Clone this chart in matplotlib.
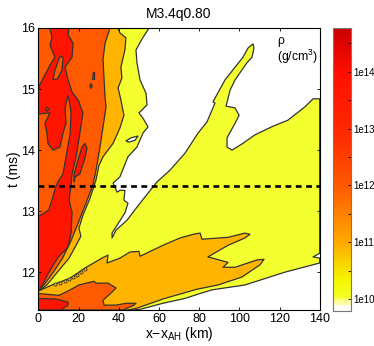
"""Density contours rho(x-x_AH, t) for M3.4q0.80, with dashed time slice."""

import matplotlib

matplotlib.use("Agg")
import matplotlib.pyplot as plt
import numpy as np
from matplotlib.cm import ScalarMappable
from matplotlib.colors import LinearSegmentedColormap, LogNorm

plt.rcParams["font.family"] = ["Liberation Sans", "DejaVu Sans"]
plt.rcParams["mathtext.default"] = "regular"

# contour outlines, (x - x_AH in km, t in ms)
yellow_region = [
    (55.1, 16), (51.6, 15.82), (48.6, 15.64), (49.1, 15.43), (50.6, 15.15), (53.6, 14.93), (54.1, 14.74),
    (50.1, 14.61), (52.1, 14.52), (54.6, 14.38), (52.1, 14.28), (49.1, 14.05), (44.6, 13.89), (40.6, 13.56),
    (37.2, 13.46), (39.2, 13.31), (40.6, 13.34), (43.1, 13.34), (42.6, 13.18), (44.6, 13.13), (43.1, 12.97),
    (39.2, 12.77), (36.7, 12.64), (36.7, 12.56), (38.7, 12.69), (44.1, 12.85), (50.6, 13.13), (59.1, 13.48),
    (65.5, 13.67), (73, 13.95), (79.5, 14.28), (83.9, 14.46), (87.9, 14.77), (86.9, 14.79), (92.9, 15.15),
    (101.8, 15.52), (104.3, 15.67), (106.8, 15.74), (107.3, 15.67), (106.3, 15.52), (103.8, 15.43),
    (97.9, 15.15), (95.4, 14.98), (93.4, 14.72), (97.9, 14.69), (99.9, 14.57), (97.9, 14.44), (93.9, 14.2),
    (93.9, 14.05), (96.4, 14.0), (101.8, 14.11), (107.8, 14.25), (116.7, 14.39), (124.2, 14.49), (132.7, 14.71),
    (136.7, 14.84), (140, 14.84), (140, 12.31), (136.7, 12.25), (140, 12.23), (140, 12.15), (122.7, 12.0),
    (102.8, 11.79), (86.4, 11.71), (79.5, 11.64), (73, 11.57), (62, 11.49), (50.6, 11.39), (47.1, 11.38),
    (0, 11.38), (0, 16),
]
amber_upper = [
    (39.7, 16), (40.6, 15.92), (43.6, 15.84), (43.1, 15.64), (41.1, 15.36), (41.6, 15.18), (39.7, 15.02),
    (41.1, 14.82), (42.6, 14.57), (40.6, 14.36), (37.2, 14.11), (32.2, 13.89), (30.2, 13.75), (28.7, 13.51),
    (25.7, 13.21), (22.2, 12.93), (20.2, 12.72), (21.2, 12.59), (18.8, 12.44), (15.3, 12.23), (9.5, 12.0),
    (4.5, 11.8), (1.5, 11.72), (0, 11.69), (0, 16),
]
amber_lower = [
    (0, 11.69), (6.8, 11.79), (15.8, 11.9), (23.3, 12.07), (31.7, 12.23), (34.7, 12.28), (34.2, 12.15),
    (40.6, 12.23), (45.6, 12.33), (50.1, 12.34), (50.6, 12.26), (62, 12.44), (70.5, 12.56), (77, 12.62),
    (80.5, 12.64), (81.4, 12.54), (94.4, 12.57), (102.8, 12.64), (105.3, 12.62), (102.8, 12.56), (94.4, 12.44),
    (84.4, 12.25), (94.4, 12.16), (91.9, 12.08), (97.9, 12.08), (108.8, 12.2), (112.3, 12.21), (110.3, 12.12),
    (101.3, 11.92), (89.4, 11.79), (78.9, 11.72), (62, 11.56), (49.1, 11.41), (44.6, 11.38), (0, 11.38),
]
orange_upper = [
    (35.7, 16), (33.2, 15.75), (32.2, 15.48), (33.2, 14.87), (33.7, 14.71), (31.2, 14.16), (30.2, 13.95),
    (28.7, 13.67), (27.2, 13.43), (23.7, 13.13), (18.8, 12.72), (16.5, 12.53), (14, 12.36), (12.1, 12.23),
    (7.5, 12.0), (3, 11.8), (1, 11.72), (0, 11.69), (0, 16),
]
orange_lower = [
    (0, 11.65), (10.3, 11.62), (15.3, 11.7), (20.2, 11.79), (27.7, 11.85), (28.7, 11.82), (34.7, 11.82),
    (38.7, 11.74), (36.2, 11.66), (32.2, 11.54), (32.7, 11.46), (38.7, 11.46), (43.6, 11.49), (48.6, 11.49),
    (47.6, 11.46), (42.1, 11.38), (0, 11.38),
]
red_main = [
    (0, 12.91), (5.3, 13.02), (8.8, 13.41), (10.3, 13.51), (12.3, 13.61), (13.8, 13.89), (15.8, 14.26),
    (16.3, 14.61), (15.3, 14.82), (14.8, 14.89), (13.8, 14.77), (13.3, 14.66), (13.8, 14.44), (12.3, 14.28),
    (10.8, 14.05), (7.3, 14.0), (4.8, 14.11), (4.3, 14.28), (3.3, 14.44), (5.8, 14.61), (0, 14.59), (0, 15.02),
    (5.8, 15.39), (8.3, 15.52), (5.8, 15.72), (6.8, 15.84), (5.8, 16), (15.3, 16), (14.8, 15.89), (17.3, 15.75),
    (16.8, 15.52), (13.3, 15.36), (14.8, 15.15), (16.8, 14.95), (19.8, 14.82), (22.2, 14.61), (20.7, 14.28),
    (18.8, 13.89), (16.8, 13.61), (16.3, 13.43), (15.3, 13.18), (16.8, 12.98), (16.3, 12.64), (14.8, 12.41),
    (10, 12.25), (5.3, 12.0), (2.2, 11.8), (0.5, 11.71), (0, 11.69),
]
red_strip = [
    (23.2, 14.11), (24.2, 14.03), (23.2, 13.87), (20.7, 13.61), (18.3, 13.56), (17.8, 13.48), (17.8, 13.61),
    (19.8, 13.84), (21.7, 14.05),
]
red_lower = [(0, 11.57), (8.8, 11.56), (14.8, 11.51), (14.8, 11.46), (11.3, 11.38), (0, 11.38)]
orange_islands = [
    [(12.3, 15.52), (10.8, 15.54), (8.3, 15.31), (7.3, 15.16), (9.3, 15.16), (11.8, 15.31)],
    [(3.5, 14.67), (4.3, 14.70), (5.3, 14.67), (4.3, 14.64)],
    [(26.9, 15.17), (27.5, 15.17), (27.5, 15.28), (27, 15.28)],
    [(25.6, 15.05), (26.2, 15.09), (26.8, 15.05), (26.2, 15.01)],
]
white_island = [(43.6, 14.15), (46.1, 14.2), (49.6, 14.23), (48.1, 14.16), (45.1, 14.13)]
blob_km = [8.3, 10.8, 13.3, 15.3, 17.3, 19.3, 21.3, 23.3]
blob_ms = [11.80, 11.82, 11.85, 11.88, 11.92, 11.95, 12.0, 12.05]

slice_ms = 13.41
xticks = [0, 20, 40, 60, 80, 100, 120, 140]
yticks = [12, 13, 14, 15, 16]
bar_ticks = [1e10, 1e11, 1e12, 1e13, 1e14]
bar_labels = ["1e10", "1e11", "1e12", "1e13", "1e14"]
bar_minor = [10**10.5, 10**11.5, 10**12.5, 10**13.5, 10**14.5]

YELLOW = "#f4ff2f"
AMBER = "#ffb400"
ORANGE = "#ff5a00"
RED = "#ff1400"
EDGE = "#333333"
W, H = 374, 346


def draw_region(ax, points, color):
    pts = np.asarray(points, dtype=float)
    ax.fill(pts[:, 0], pts[:, 1], facecolor=color, edgecolor=EDGE, lw=0.9, joinstyle="round")


fig = plt.figure(figsize=(W / 100, H / 100), dpi=100)
ax = fig.add_axes([38.3 / W, (H - 310) / H, 281.4 / W, 282 / H])

draw_region(ax, yellow_region, YELLOW)
draw_region(ax, amber_upper, AMBER)
draw_region(ax, amber_lower, AMBER)
draw_region(ax, orange_upper, ORANGE)
draw_region(ax, orange_lower, ORANGE)
draw_region(ax, red_main, RED)
draw_region(ax, red_strip, RED)
draw_region(ax, red_lower, RED)
for island in orange_islands:
    draw_region(ax, island, ORANGE)
draw_region(ax, white_island, "white")
ax.scatter(blob_km, blob_ms, s=5, facecolor=AMBER, edgecolor=EDGE, lw=0.6, zorder=3)

ax.plot([0, 140], [slice_ms, slice_ms], color="black", lw=1.9, dashes=(2.2, 1.7), zorder=4)
ax.text(118.8, 15.79, "ρ", fontsize=8.8, va="center")
ax.text(118.8, 15.52, "(g/cm$^3$)", fontsize=8.8, va="center")

ax.set_xlim(0, 140)
ax.set_ylim(11.38, 16)
ax.set_xticks(xticks)
ax.set_yticks(yticks)
ax.tick_params(direction="in", top=True, right=True, length=2.2, width=0.6, labelsize=9, pad=2.5)
ax.set_xlabel("x−x$_{AH}$ (km)", fontsize=10, labelpad=0)
ax.set_ylabel("t (ms)", fontsize=10, labelpad=0)
ax.set_title("M3.4q0.80", fontsize=10, pad=7)

# colour bar
cmap = LinearSegmentedColormap.from_list(
    "rho",
    [
        (0.0, "#ffffff"),
        (0.014, "#ffffff"),
        (0.02, "#fdfdb0"),
        (0.035, "#fdfd90"),
        (0.05, "#f4ff20"),
        (0.11, "#f5f500"),
        (0.245, "#ffa800"),
        (0.44, "#ff5a00"),
        (0.62, "#ff2a00"),
        (0.845, "#ff0e00"),
        (1.0, "#cc0000"),
    ],
)
cax = fig.add_axes([332.7 / W, (H - 311) / H, 18 / W, 283 / H])
norm = LogNorm(vmin=10**9.79, vmax=10**14.77)
bar = fig.colorbar(ScalarMappable(norm=norm, cmap=cmap), cax=cax)
bar.set_ticks(bar_ticks, labels=bar_labels)
cax.set_yticks(bar_minor, minor=True)
cax.set_ylim(10**9.79, 10**14.77)
cax.tick_params(which="major", direction="in", length=2, width=0.6, labelsize=7, pad=2)
cax.tick_params(which="minor", direction="in", length=2, width=0.6, labelright=False)
bar.outline.set_edgecolor("#777777")
bar.outline.set_linewidth(0.8)

fig.savefig("out.png", dpi=100)
